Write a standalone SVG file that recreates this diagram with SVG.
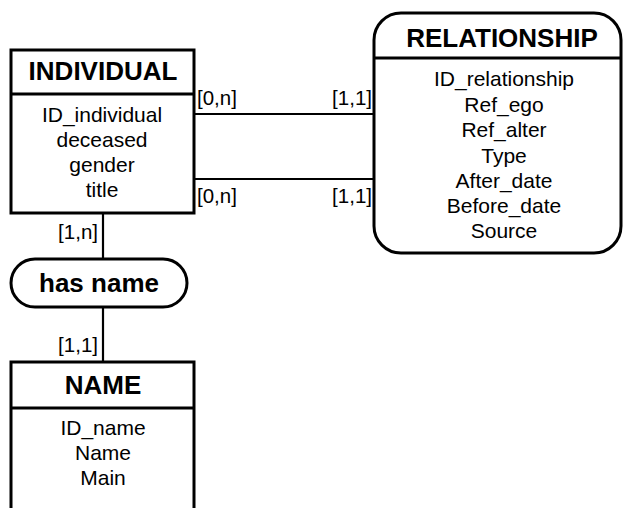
<svg xmlns="http://www.w3.org/2000/svg" width="623" height="508" viewBox="0 0 623 508">
<style>
.box{fill:#fff;stroke:#000;stroke-width:3}
.sep{stroke:#000;stroke-width:3}
.ln{stroke:#000;stroke-width:2.2;fill:none}
.t{font-family:"Liberation Sans",Arial,sans-serif;font-weight:bold;font-size:26px;text-anchor:middle;fill:#000}
.a{font-family:"Liberation Sans",Arial,sans-serif;font-size:21px;text-anchor:middle;fill:#000}
.c{font-family:"Liberation Sans",Arial,sans-serif;font-size:20.5px;fill:#000}
</style>
<rect width="623" height="508" fill="#fff"/>
<g id="connectors">
<line class="ln" x1="194" y1="114" x2="375" y2="114"/>
<line class="ln" x1="194" y1="179" x2="375" y2="179"/>
<line class="ln" x1="103" y1="213" x2="103" y2="258"/>
<line class="ln" x1="103" y1="307" x2="103" y2="362"/>
<text class="c" x="197" y="105">[0,n]</text>
<text class="c" x="372" y="105" text-anchor="end">[1,1]</text>
<text class="c" x="197" y="203">[0,n]</text>
<text class="c" x="372" y="203" text-anchor="end">[1,1]</text>
<text class="c" x="98" y="239" text-anchor="end">[1,n]</text>
<text class="c" x="98" y="352" text-anchor="end">[1,1]</text>
</g>
<g id="individual">
<rect class="box" x="11" y="50" width="183" height="163"/>
<line class="sep" x1="11" y1="94" x2="194" y2="94"/>
<text class="t" x="103" y="80">INDIVIDUAL</text>
<text class="a" x="102" y="122">ID_individual</text>
<text class="a" x="102" y="147">deceased</text>
<text class="a" x="102" y="172">gender</text>
<text class="a" x="102" y="197">title</text>
</g>
<g id="relationship">
<rect class="box" x="374" y="13" width="247" height="240" rx="27" ry="27"/>
<line class="sep" x1="374" y1="58" x2="621" y2="58"/>
<text class="t" x="502" y="47">RELATIONSHIP</text>
<text class="a" x="504" y="86">ID_relationship</text>
<text class="a" x="504" y="112">Ref_ego</text>
<text class="a" x="504" y="137">Ref_alter</text>
<text class="a" x="504" y="163">Type</text>
<text class="a" x="504" y="188">After_date</text>
<text class="a" x="504" y="213">Before_date</text>
<text class="a" x="504" y="238">Source</text>
</g>
<g id="has_name">
<rect class="box" x="11" y="259" width="176" height="48" rx="24" ry="24"/>
<text class="t" x="99" y="292">has name</text>
</g>
<g id="name">
<rect class="box" x="11" y="362" width="183" height="170"/>
<line class="sep" x1="11" y1="408" x2="194" y2="408"/>
<text class="t" x="103" y="394">NAME</text>
<text class="a" x="103" y="435">ID_name</text>
<text class="a" x="103" y="460">Name</text>
<text class="a" x="103" y="485">Main</text>
</g>
</svg>
